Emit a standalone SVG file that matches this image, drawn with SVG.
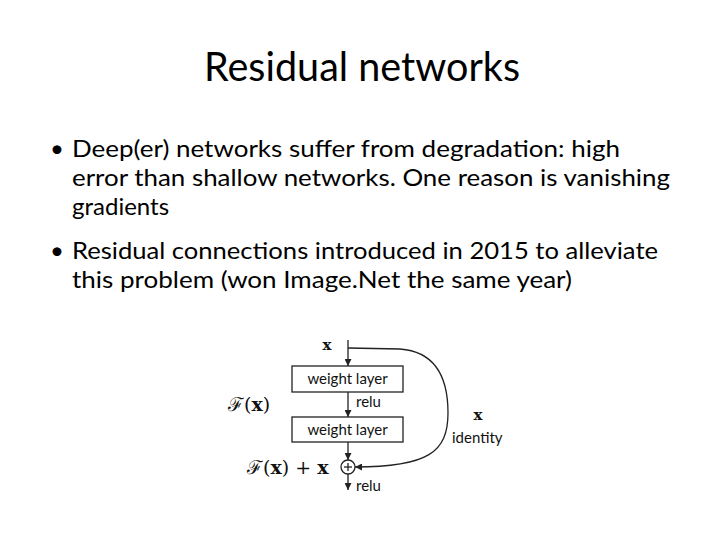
<svg xmlns="http://www.w3.org/2000/svg" width="720" height="540" viewBox="0 0 720 540">
<style>
.title{font-family:Lato,"Liberation Sans",sans-serif;font-size:41px;fill:#000}
.body{font-family:Lato,"Liberation Sans",sans-serif;font-size:24px;fill:#000}
.lbl{font-family:Lato,"Liberation Sans",sans-serif;font-size:15px;fill:#111}
.math{font-family:"DejaVu Serif","Liberation Serif",serif;font-size:19px;fill:#111}
.bx{font-family:"DejaVu Serif","Liberation Serif",serif;font-weight:bold;fill:#111}
.box{fill:#fff;stroke:#222;stroke-width:1.3}
.ln{fill:none;stroke:#222;stroke-width:1.3}
</style>
<defs>
<marker id="ah" viewBox="0 0 10 10" refX="10" refY="5" markerWidth="7" markerHeight="7" markerUnits="userSpaceOnUse" orient="auto">
<path d="M0,0 L10,5 L0,10 Z" fill="#222"/>
</marker>
</defs>
<rect width="720" height="540" fill="#fff"/>
<text class="title" x="204" y="81" textLength="316" lengthAdjust="spacingAndGlyphs">Residual networks</text>
<g id="bullets">
<text class="body" x="50" y="157">•</text>
<text class="body" x="72" y="157" textLength="548" lengthAdjust="spacingAndGlyphs">Deep(er) networks suffer from degradation: high</text>
<text class="body" x="72" y="186" textLength="598" lengthAdjust="spacingAndGlyphs">error than shallow networks. One reason is vanishing</text>
<text class="body" x="72" y="215">gradients</text>
<text class="body" x="50" y="259">•</text>
<text class="body" x="72" y="259" textLength="586" lengthAdjust="spacingAndGlyphs">Residual connections introduced in 2015 to alleviate</text>
<text class="body" x="72" y="288" textLength="500" lengthAdjust="spacingAndGlyphs">this problem (won Image.Net the same year)</text>
</g>
<g id="connectors">
<line class="ln" x1="348" y1="340" x2="348" y2="366" marker-end="url(#ah)"/>
<line class="ln" x1="348" y1="392" x2="348" y2="417" marker-end="url(#ah)"/>
<line class="ln" x1="348" y1="442" x2="348" y2="460" marker-end="url(#ah)"/>
<line class="ln" x1="348" y1="474" x2="348" y2="490" marker-end="url(#ah)"/>
<path class="ln" d="M348,348 L400,349 C440,352 448,385 448,413 C448,452 428,467 355,467" marker-end="url(#ah)"/>
</g>
<g id="input-x"><text class="bx" x="327" y="350" font-size="15" text-anchor="middle">x</text></g>
<g id="weight-layer-1">
<rect class="box" x="292" y="366" width="111" height="26"/>
<text class="lbl" x="347.5" y="384" text-anchor="middle">weight layer</text>
</g>
<g id="relu-1"><text class="lbl" x="356" y="407">relu</text></g>
<g id="weight-layer-2">
<rect class="box" x="292" y="417" width="111" height="25"/>
<text class="lbl" x="347.5" y="434.5" text-anchor="middle">weight layer</text>
</g>
<g id="sum">
<circle class="ln" cx="348" cy="467" r="7"/>
<line class="ln" x1="344" y1="467" x2="352" y2="467"/>
<line class="ln" x1="348" y1="463" x2="348" y2="471"/>
</g>
<g id="relu-2"><text class="lbl" x="356" y="491">relu</text></g>
<g id="Fx"><text class="math" x="228" y="411">ℱ(<tspan class="bx">x</tspan>)</text></g>
<g id="Fx-plus-x"><text class="math" x="247" y="474">ℱ(<tspan class="bx">x</tspan>) + <tspan class="bx">x</tspan></text></g>
<g id="identity">
<text class="bx" x="478" y="420" font-size="15" text-anchor="middle">x</text>
<text class="lbl" x="452" y="443">identity</text>
</g>
</svg>
